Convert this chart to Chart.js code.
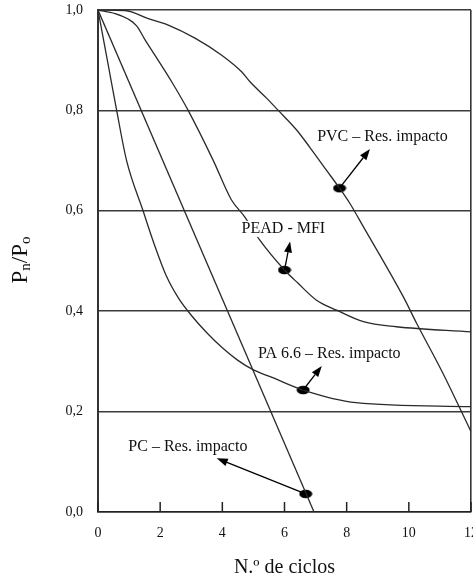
<!DOCTYPE html>
<html>
<head>
<meta charset="utf-8">
<script src="https://cdn.jsdelivr.net/npm/chart.js@4.4.0/dist/chart.umd.min.js"></script>
<style>
  html, body { margin: 0; padding: 0; background: #fff; }
  canvas { display: block; }
</style>
</head>
<body>
<canvas id="grafico" width="473" height="581"></canvas>
<script>
// curvas (x = n.º de ciclos, y = Pn/Po)
const pvcX = [0, 0.87, 1.62, 2.26, 3.12, 3.98, 4.62, 4.89, 5.43, 5.8, 6.39, 6.82, 7.36, 7.77, 8.1, 8.54, 9.82, 10.25, 11.1, 12];
const pvcY = [1.0, 0.999, 0.983, 0.97, 0.944, 0.91, 0.877, 0.857, 0.824, 0.8, 0.761, 0.726, 0.68, 0.645, 0.615, 0.568, 0.429, 0.376, 0.276, 0.16];

const peadX = [0, 0.55, 0.97, 1.25, 1.5, 1.83, 2.37, 2.9, 3.71, 4.29, 4.72, 5.2, 6.0, 6.43, 7.03, 7.68, 8.54, 9.6, 12];
const peadY = [1.0, 0.993, 0.982, 0.968, 0.942, 0.91, 0.857, 0.8, 0.70, 0.622, 0.588, 0.542, 0.482, 0.456, 0.422, 0.402, 0.379, 0.369, 0.359];

const paX = [0, 0.12, 0.33, 0.6, 0.92, 1.45, 1.8, 2.2, 2.6, 3.0, 3.5, 4.0, 4.5, 5.0, 5.6, 6.6, 8.3, 12];
const paY = [1.0, 0.96, 0.89, 0.8, 0.70, 0.6, 0.535, 0.47, 0.425, 0.392, 0.357, 0.327, 0.302, 0.283, 0.268, 0.243, 0.218, 0.21];

const pcX = [0, 6.95];
const pcY = [1.0, 0.0];

// pontos marcados e legendas
const markerX = [7.77, 6.0, 6.6, 6.68];
const markerY = [0.645, 0.482, 0.243, 0.036];
const labelText = ['PVC – Res. impacto', 'PEAD - MFI', 'PA 6.6 – Res. impacto', 'PC – Res. impacto'];
const labelX = [7.05, 4.62, 5.15, 0.975];
const labelY = [0.747, 0.564, 0.316, 0.129];
const arrowX = [8.75, 6.18, 7.2, 3.82];
const arrowY = [0.723, 0.539, 0.291, 0.107];

const xTitle = 'N.º de ciclos';

const serif = '"Liberation Serif", "Times New Roman", serif';

function toPoints(xs, ys) {
  return xs.map((v, i) => ({ x: v, y: ys[i] }));
}

function curve(xs, ys) {
  return {
    data: toPoints(xs, ys),
    showLine: true,
    borderColor: '#2a2a2a',
    borderWidth: 1.3,
    pointRadius: 0,
    cubicInterpolationMode: 'monotone'
  };
}

// ponto em forma de elipse
const dot = document.createElement('canvas');
dot.width = 14;
dot.height = 10;
(function () {
  const c = dot.getContext('2d');
  c.fillStyle = '#000';
  c.beginPath();
  c.ellipse(7, 5, 6.5, 4.2, 0, 0, Math.PI * 2);
  c.fill();
})();

const annotations = {
  id: 'annotations',
  afterDatasetsDraw(chart) {
    const { ctx, scales: { x, y } } = chart;
    ctx.save();
    ctx.font = '16px ' + serif;
    ctx.textBaseline = 'middle';
    labelText.forEach((t, i) => {
      const lx = x.getPixelForValue(labelX[i]);
      const ly = y.getPixelForValue(labelY[i]);
      const w = ctx.measureText(t).width;
      ctx.fillStyle = '#fff';
      ctx.fillRect(lx - 2, ly - 8, w + 4, 16);
      ctx.fillStyle = '#111';
      ctx.fillText(t, lx, ly);
    });

    // setas
    ctx.strokeStyle = '#000';
    ctx.fillStyle = '#000';
    ctx.lineWidth = 1.3;
    markerX.forEach((mx, i) => {
      const x0 = x.getPixelForValue(mx), y0 = y.getPixelForValue(markerY[i]);
      const x1 = x.getPixelForValue(arrowX[i]), y1 = y.getPixelForValue(arrowY[i]);
      const a = Math.atan2(y1 - y0, x1 - x0);
      const len = 11, half = 4;
      const bx = x1 - len * Math.cos(a), by = y1 - len * Math.sin(a);
      ctx.beginPath();
      ctx.moveTo(x0, y0);
      ctx.lineTo(bx, by);
      ctx.stroke();
      ctx.beginPath();
      ctx.moveTo(x1, y1);
      ctx.lineTo(bx + half * Math.sin(a), by - half * Math.cos(a));
      ctx.lineTo(bx - half * Math.sin(a), by + half * Math.cos(a));
      ctx.closePath();
      ctx.fill();
    });
    ctx.restore();
  },
  afterDraw(chart) {
    const { ctx, chartArea, scales: { x } } = chart;
    ctx.save();
    // traços internos do eixo x
    ctx.strokeStyle = '#222';
    ctx.lineWidth = 1.5;
    x.ticks.forEach(t => {
      const px = x.getPixelForValue(t.value);
      ctx.beginPath();
      ctx.moveTo(px, chartArea.bottom);
      ctx.lineTo(px, chartArea.bottom - 10);
      ctx.stroke();
    });

    // título do eixo y: Pn/Po com índices
    const big = '23px ' + serif, small = '15px ' + serif;
    const parts = [['P', big, 0], ['n', small, 5], ['/P', big, 0], ['o', small, 5]];
    let total = 0;
    parts.forEach(p => { ctx.font = p[1]; total += ctx.measureText(p[0]).width; });
    ctx.translate(21, 260);
    ctx.rotate(-Math.PI / 2);
    ctx.fillStyle = '#111';
    ctx.textBaseline = 'middle';
    let cx = -total / 2;
    parts.forEach(p => {
      ctx.font = p[1];
      ctx.fillText(p[0], cx, p[2]);
      cx += ctx.measureText(p[0]).width;
    });
    ctx.restore();
  }
};

new Chart(document.getElementById('grafico'), {
  type: 'scatter',
  data: {
    datasets: [
      curve(pvcX, pvcY),
      curve(peadX, peadY),
      curve(paX, paY),
      curve(pcX, pcY),
      {
        data: toPoints(markerX, markerY),
        showLine: false,
        pointStyle: dot,
        pointRadius: 6
      }
    ]
  },
  options: {
    responsive: false,
    animation: false,
    events: [],
    layout: { autoPadding: false, padding: { top: 10, right: 2, left: 0, bottom: 0 } },
    plugins: {
      legend: { display: false },
      tooltip: { enabled: false }
    },
    scales: {
      x: {
        type: 'linear',
        min: 0,
        max: 12,
        afterFit(s) { s.height = 69; s.paddingLeft = 0; s.paddingRight = 0; },
        ticks: {
          stepSize: 2,
          padding: 13,
          color: '#111',
          font: { family: serif, size: 14 }
        },
        grid: {
          drawTicks: false,
          color: ctx => (ctx.tick && (ctx.tick.value === 0 || ctx.tick.value === 12)) ? '#333' : 'rgba(0,0,0,0)',
          lineWidth: 1.6
        },
        border: { color: '#222', width: 1.6 },
        title: {
          display: true,
          text: xTitle,
          color: '#111',
          font: { family: serif, size: 20 },
          padding: { top: 0, bottom: 1 }
        }
      },
      y: {
        min: 0,
        max: 1,
        afterFit(s) { s.width = 98; s.paddingTop = 0; s.paddingBottom = 0; },
        ticks: {
          stepSize: 0.2,
          padding: 15,
          color: '#111',
          font: { family: serif, size: 14 },
          callback: v => v.toFixed(1).replace('.', ',')
        },
        grid: {
          drawTicks: false,
          color: '#3a3a3a',
          lineWidth: 1.6
        },
        border: { color: '#333', width: 2 }
      }
    }
  },
  plugins: [annotations]
});
</script>
</body>
</html>
